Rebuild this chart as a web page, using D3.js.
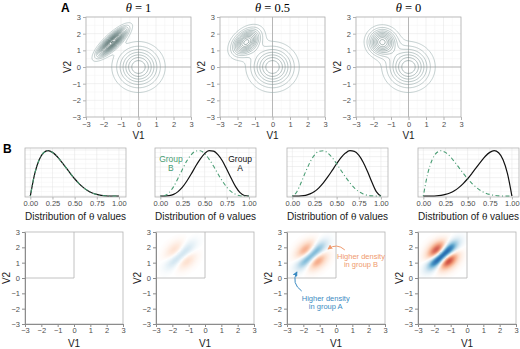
<!DOCTYPE html>
<meta charset="utf-8">
<head>
<script src="https://d3js.org/d3.v7.min.js"></script>
<style>
  body { margin: 0; background: #fff; }
  svg { display: block; font-family: "Liberation Sans", Arial, sans-serif; }
  .tick text { fill: #4d4d4d; font-size: 7.5px; font-family: "Liberation Sans", Arial, sans-serif; }
  .axtitle { fill: #1a1a1a; font-size: 10px; text-anchor: middle; }
</style>
</head>
<body>
<div id="chart"></div>
<script>
// ---- data ----
// panel A: theta values shown and the two-component density
const thetaValues = [1, 0.5, 0];
const thetaTitles = ["1", "0.5", "0"];
const compMean = [[0, 0], [-1.5, 1.5]];
const compSd = [0.75, 0.48];
const compWeight = [0.75, 0.4];
const rhoAtTheta1 = 0.82;
const axisTicks = [-3, -2, -1, 0, 1, 2, 3];

// panel B: distributions of theta, read at steps of 0.05
const thetaGrid = [0, 0.05, 0.1, 0.15, 0.2, 0.25, 0.3, 0.35, 0.4, 0.45, 0.5,
  0.55, 0.6, 0.65, 0.7, 0.75, 0.8, 0.85, 0.9, 0.95, 1];
const thetaTicks = [0, 0.25, 0.5, 0.75, 1];
const groupA1 = [0, 1.22, 1.97, 2.35, 2.46, 2.37, 2.16, 1.87, 1.56, 1.24, 0.94, 0.68, 0.46, 0.29, 0.17, 0.09, 0.04, 0.01, 0.00, 0.00, 0];
const groupB1 = [0, 1.22, 1.97, 2.35, 2.46, 2.37, 2.16, 1.87, 1.56, 1.24, 0.94, 0.68, 0.46, 0.29, 0.17, 0.09, 0.04, 0.01, 0.00, 0.00, 0];
const groupA2 = [0, 0.00, 0.02, 0.09, 0.23, 0.46, 0.78, 1.15, 1.55, 1.91, 2.19, 2.34, 2.32, 2.14, 1.82, 1.38, 0.92, 0.49, 0.18, 0.03, 0];
const groupB2 = [0, 0.03, 0.18, 0.49, 0.92, 1.38, 1.82, 2.14, 2.32, 2.34, 2.19, 1.91, 1.55, 1.15, 0.78, 0.46, 0.23, 0.09, 0.02, 0.00, 0];
const groupA3 = [0, 0.00, 0.01, 0.04, 0.11, 0.23, 0.42, 0.67, 0.97, 1.30, 1.64, 1.95, 2.18, 2.30, 2.27, 2.08, 1.72, 1.23, 0.69, 0.21, 0];
const groupB3 = [0, 0.21, 0.69, 1.23, 1.72, 2.08, 2.27, 2.30, 2.18, 1.95, 1.64, 1.30, 0.97, 0.67, 0.42, 0.23, 0.11, 0.04, 0.01, 0.00, 0];
const groupA4 = [0, 0.00, 0.00, 0.01, 0.04, 0.09, 0.17, 0.29, 0.46, 0.68, 0.94, 1.24, 1.56, 1.87, 2.16, 2.37, 2.46, 2.35, 1.97, 1.22, 0];
const groupB4 = [0, 1.22, 1.97, 2.35, 2.46, 2.37, 2.16, 1.87, 1.56, 1.24, 0.94, 0.68, 0.46, 0.29, 0.17, 0.09, 0.04, 0.01, 0.00, 0.00, 0];
const groupA = [groupA1, groupA2, groupA3, groupA4];
const groupB = [groupB1, groupB2, groupB3, groupB4];

const green = "#4a9d74";
const orange = "#ef9a6e";
const blue = "#3b8bc2";

const svg = d3.select("#chart").append("svg")
  .attr("width", 520)
  .attr("height", 349);

// bivariate normal density
function normal2(x, y, mx, my, s, rho) {
  const dx = (x - mx) / s, dy = (y - my) / s;
  const q = (dx * dx - 2 * rho * dx * dy + dy * dy) / (1 - rho * rho);
  return Math.exp(-q / 2) / (2 * Math.PI * s * s * Math.sqrt(1 - rho * rho));
}

function mixture(x, y, theta) {
  return compWeight[0] * normal2(x, y, compMean[0][0], compMean[0][1], compSd[0], 0) +
    compWeight[1] * normal2(x, y, compMean[1][0], compMean[1][1], compSd[1], rhoAtTheta1 * theta);
}

// minor/major grid helper
function grid(g, x, y, xs, ys, color, xr, yr) {
  g.append("g").selectAll("line").data(xs).join("line")
    .attr("x1", d => x(d)).attr("x2", d => x(d))
    .attr("y1", yr[0]).attr("y2", yr[1])
    .attr("stroke", color).attr("stroke-width", 0.5);
  g.append("g").selectAll("line").data(ys).join("line")
    .attr("y1", d => y(d)).attr("y2", d => y(d))
    .attr("x1", xr[0]).attr("x2", xr[1])
    .attr("stroke", color).attr("stroke-width", 0.5);
}

function styleAxis(a, tickColor) {
  a.attr("font-family", null).attr("font-size", null);
  a.selectAll(".tick line").attr("stroke", tickColor);
}

const intFmt = d3.format("d");

// ================= PANEL A =================
const aLeft = [86, 220, 356], aW = 105, aTop = 17, aH = 100;
const levelStep = 0.0266;
const levels = d3.range(levelStep, 0.7, levelStep);
const lineColor = d3.scaleLinear().domain([levelStep, 0.4])
  .range(["#93a9a9", "#3e5b5a"]).clamp(true);

svg.append("text").attr("x", 61).attr("y", 12)
  .attr("font-weight", "bold").attr("font-size", 12).text("A");

thetaValues.forEach((theta, p) => {
  const left = aLeft[p];
  const x = d3.scaleLinear().domain([-3, 3]).range([left, left + aW]);
  const y = d3.scaleLinear().domain([-3, 3]).range([aTop + aH, aTop]);
  const g = svg.append("g");

  grid(g, x, y, d3.range(-2.5, 3, 1), d3.range(-2.5, 3, 1), "#f3f3f3",
    [left, left + aW], [aTop + aH, aTop]);
  grid(g, x, y, axisTicks, axisTicks, "#e3e3e3", [left, left + aW], [aTop + aH, aTop]);
  // zero lines
  g.append("line").attr("x1", x(0)).attr("x2", x(0)).attr("y1", aTop).attr("y2", aTop + aH)
    .attr("stroke", "#a8a8a8").attr("stroke-width", 0.8);
  g.append("line").attr("y1", y(0)).attr("y2", y(0)).attr("x1", left).attr("x2", left + aW)
    .attr("stroke", "#a8a8a8").attr("stroke-width", 0.8);

  // density contours
  const n = 110, step = 6 / n;
  const values = new Float64Array(n * n);
  for (let j = 0; j < n; j++) {
    for (let i = 0; i < n; i++) {
      values[i + j * n] = mixture(-3 + (i + 0.5) * step, -3 + (j + 0.5) * step, theta);
    }
  }
  const contours = d3.contours().size([n, n]).thresholds(levels)(values);
  const proj = d3.geoTransform({
    point: function (px, py) { this.stream.point(x(-3 + px * step), y(-3 + py * step)); }
  });
  g.append("g").selectAll("path").data(contours).join("path")
    .attr("d", d3.geoPath(proj))
    .attr("fill", "none")
    .attr("stroke", d => lineColor(d.value))
    .attr("stroke-width", 0.55);

  g.append("rect").attr("x", left).attr("y", aTop).attr("width", aW).attr("height", aH)
    .attr("fill", "none").attr("stroke", "#b3b3b3").attr("stroke-width", 0.8);

  // axes
  const ax = g.append("g").attr("transform", `translate(0,${aTop + aH})`)
    .call(d3.axisBottom(x).tickValues(axisTicks).tickFormat(intFmt).tickSize(3).tickPadding(1.5));
  const ay = g.append("g").attr("transform", `translate(${left},0)`)
    .call(d3.axisLeft(y).tickValues(axisTicks).tickFormat(intFmt).tickSize(3).tickPadding(2));
  [ax, ay].forEach(a => {
    a.select(".domain").remove();
    styleAxis(a, "#b3b3b3");
  });

  svg.append("text").attr("class", "axtitle").attr("x", left + aW / 2).attr("y", 138.5).text("V1");
  svg.append("text").attr("class", "axtitle")
    .attr("transform", `translate(${left - 15},${aTop + aH / 2}) rotate(-90)`).text("V2");

  const t = svg.append("text").attr("x", left + aW / 2).attr("y", 12)
    .attr("text-anchor", "middle").attr("font-family", "'Liberation Serif', 'DejaVu Serif', serif")
    .attr("font-size", 12.5);
  t.append("tspan").attr("font-style", "italic").text("\u03B8");
  t.append("tspan").text(" = " + thetaTitles[p]);
});

// ================= PANEL B, top row =================
const bLeft = [25, 155, 287, 418], bW = 101, bTop = 148, bH = 49;

svg.append("text").attr("x", 3).attr("y", 153)
  .attr("font-weight", "bold").attr("font-size", 12).text("B");

groupA.forEach((dA, p) => {
  const dB = groupB[p];
  const left = bLeft[p];
  const ymax = d3.max(dA.concat(dB));
  const x = d3.scaleLinear().domain([-0.06, 1.08]).range([left, left + bW]);
  const y = d3.scaleLinear().domain([-0.02 * ymax, ymax * 1.06]).range([bTop + bH, bTop]);
  const g = svg.append("g");

  grid(g, x, y, d3.range(0.125, 1, 0.25), d3.range(0.25, ymax * 1.06, 0.5), "#f3f3f3",
    [left, left + bW], [bTop + bH, bTop]);
  grid(g, x, y, thetaTicks, d3.range(0, ymax * 1.06, 0.5), "#e3e3e3",
    [left, left + bW], [bTop + bH, bTop]);

  const line = d3.line()
    .x((d, i) => x(thetaGrid[i]))
    .y(d => y(d))
    .curve(d3.curveMonotoneX);

  g.append("path").datum(dA).attr("d", line)
    .attr("fill", "none").attr("stroke", "#111").attr("stroke-width", 1.2);
  g.append("path").datum(dB).attr("d", line)
    .attr("fill", "none").attr("stroke", green).attr("stroke-width", 1.1)
    .attr("stroke-dasharray", "1,2.5,4,2.5");

  g.append("rect").attr("x", left).attr("y", bTop).attr("width", bW).attr("height", bH)
    .attr("fill", "none").attr("stroke", "#b3b3b3").attr("stroke-width", 0.8);

  const ax = g.append("g").attr("transform", `translate(0,${bTop + bH})`)
    .call(d3.axisBottom(x).tickValues(thetaTicks).tickFormat(d3.format(".2f"))
      .tickSize(2.5).tickPadding(1.5));
  ax.select(".domain").remove();
  styleAxis(ax, "#b3b3b3");

  const t = svg.append("text").attr("class", "axtitle").attr("x", left + bW / 2).attr("y", 219.5)
    .attr("font-size", 9.5);
  t.append("tspan").text("Distribution of ");
  t.append("tspan").attr("font-family", "'DejaVu Serif', serif").attr("font-size", 9).text("\u03B8");
  t.append("tspan").text(" values");

  if (p === 1) {
    const lb = svg.append("text").attr("fill", green).attr("font-size", 8.5).attr("text-anchor", "middle");
    lb.append("tspan").attr("x", x(0.12)).attr("y", 162).text("Group");
    lb.append("tspan").attr("x", x(0.12)).attr("y", 171).text("B");
    const la = svg.append("text").attr("fill", "#111").attr("font-size", 8.5).attr("text-anchor", "middle");
    la.append("tspan").attr("x", x(0.9)).attr("y", 162).text("Group");
    la.append("tspan").attr("x", x(0.9)).attr("y", 171).text("A");
  }
});

// ================= PANEL B, bottom row =================
const cLeft = [25, 156, 287, 418], cW = 98, cTop = 232, cH = 92;
const nc = 48, cs = 3 / nc;

// density difference group A minus group B for the moving component
function diff(p, vx, vy) {
  let s = 0;
  thetaGrid.forEach((th, k) => {
    const w = groupA[p][k] - groupB[p][k];
    if (w !== 0) s += w * normal2(vx, vy, compMean[1][0], compMean[1][1], compSd[1], rhoAtTheta1 * th) * 0.05;
  });
  return s;
}

const heat = groupA.map((_, p) => {
  const cells = [];
  for (let j = 0; j < nc; j++) {
    for (let i = 0; i < nc; i++) {
      const vx = -3 + (i + 0.5) * cs, vy = (j + 0.5) * cs;
      cells.push({ vx, vy, v: diff(p, vx, vy) });
    }
  }
  return cells;
});
const vmax = d3.max(heat[3], d => Math.abs(d.v));
const fillColor = d3.scaleLinear()
  .domain([-1, -0.75, -0.5, -0.25, 0, 0.25, 0.5, 0.75, 1])
  .range(["#b2182b", "#d6604d", "#f4a582", "#fddbc7", "#ffffff", "#d1e5f0", "#92c5de", "#4393c3", "#2166ac"])
  .clamp(true);

svg.append("defs").selectAll("marker").data([["headO", orange], ["headB", blue]]).join("marker")
  .attr("id", d => d[0]).attr("viewBox", "0 0 10 10").attr("refX", 8).attr("refY", 5)
  .attr("markerWidth", 5).attr("markerHeight", 5).attr("orient", "auto")
  .append("path").attr("d", "M0,0L10,5L0,10z").attr("fill", d => d[1]);

heat.forEach((cells, p) => {
  const left = cLeft[p];
  const x = d3.scaleLinear().domain([-3, 3]).range([left, left + cW]);
  const y = d3.scaleLinear().domain([-3, 3]).range([cTop + cH, cTop]);
  const g = svg.append("g");

  g.append("g").selectAll("rect")
    .data(cells.filter(d => Math.abs(d.v) / vmax > 0.01))
    .join("rect")
    .attr("x", d => x(d.vx - cs / 2))
    .attr("y", d => y(d.vy + cs / 2))
    .attr("width", x(cs) - x(0) + 0.4)
    .attr("height", y(0) - y(cs) + 0.4)
    .attr("fill", d => fillColor(d.v / vmax));

  // frame and quadrant
  g.append("rect").attr("x", left).attr("y", cTop).attr("width", cW).attr("height", cH)
    .attr("fill", "none").attr("stroke", "#b3b3b3").attr("stroke-width", 0.8);
  g.append("line").attr("x1", x(0)).attr("x2", x(0)).attr("y1", y(3)).attr("y2", y(0))
    .attr("stroke", "#b3b3b3").attr("stroke-width", 0.8);
  g.append("line").attr("x1", x(-3)).attr("x2", x(0)).attr("y1", y(0)).attr("y2", y(0))
    .attr("stroke", "#b3b3b3").attr("stroke-width", 0.8);

  const ax = g.append("g").attr("transform", `translate(0,${cTop + cH})`)
    .call(d3.axisBottom(x).tickValues(axisTicks).tickFormat(intFmt).tickSize(3).tickSizeOuter(0).tickPadding(1));
  const ay = g.append("g").attr("transform", `translate(${left},0)`)
    .call(d3.axisLeft(y).tickValues(axisTicks).tickFormat(intFmt).tickSize(3).tickSizeOuter(0).tickPadding(2));
  [ax, ay].forEach(a => {
    a.select(".domain").attr("stroke", "#8c8c8c");
    styleAxis(a, "#8c8c8c");
  });

  svg.append("text").attr("class", "axtitle").attr("x", left + cW / 2).attr("y", 346.5).text("V1");
  svg.append("text").attr("class", "axtitle")
    .attr("transform", `translate(${left - 15},${cTop + cH / 2}) rotate(-90)`).text("V2");

  if (p === 2) {
    g.append("path")
      .attr("d", `M${x(0.54)},${y(1.83)}Q${x(0.05)},${y(2.3)} ${x(-0.48)},${y(1.9)}`)
      .attr("fill", "none").attr("stroke", orange).attr("stroke-width", 1)
      .attr("marker-end", "url(#headO)");
    const to = g.append("text").attr("fill", orange).attr("font-size", 7.5).attr("text-anchor", "middle");
    to.append("tspan").attr("x", x(1.53)).attr("y", y(1.25)).text("Higher density");
    to.append("tspan").attr("x", x(1.53)).attr("y", y(0.7)).text("in group B");

    g.append("path")
      .attr("d", `M${x(-2.1)},${y(-0.85)}Q${x(-2.75)},${y(-0.35)} ${x(-2.4)},${y(0.38)}`)
      .attr("fill", "none").attr("stroke", blue).attr("stroke-width", 1)
      .attr("marker-end", "url(#headB)");
    const tb = g.append("text").attr("fill", blue).attr("font-size", 7.5).attr("text-anchor", "middle");
    tb.append("tspan").attr("x", x(-0.63)).attr("y", y(-1.48)).text("Higher density");
    tb.append("tspan").attr("x", x(-0.63)).attr("y", y(-2.05)).text("in group A");
  }
});
</script>
</body>
</html>
